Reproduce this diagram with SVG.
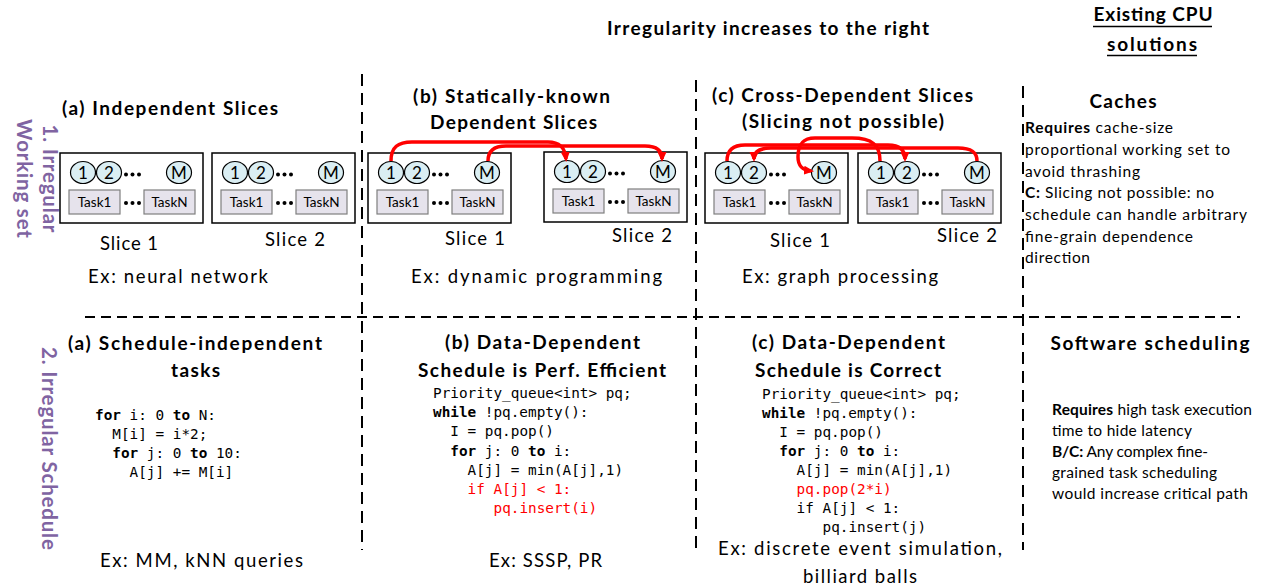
<svg xmlns="http://www.w3.org/2000/svg" xmlns:xlink="http://www.w3.org/1999/xlink" width="1270" height="588" viewBox="0 0 1270 588">
  <style>
    text { font-family: Lato, "Liberation Sans", "DejaVu Sans", sans-serif; fill: #000; }
    .h { font-weight: 700; font-size: 19px; text-anchor: middle; }
    .t { font-size: 18.5px; text-anchor: middle; }
    .b { font-size: 15.5px; }
    .bold { font-weight: 700; }
    .v { font-weight: 700; font-size: 20.5px; text-anchor: middle; fill: #8064A2; }
    .code { font-family: "DejaVu Sans Mono", "Liberation Mono", monospace; font-size: 14.35px; }
    .kw { font-weight: 700; }
    .red { fill: #FF0000; }
    .box { fill: #fff; stroke: #000; stroke-width: 1.5; }
    .node { fill: #DAEEF3; stroke: #000; stroke-width: 1.2; }
    .task { fill: #E6E3EC; stroke: #7F7F7F; stroke-width: 1.2; }
    .dig { font-size: 17px; text-anchor: middle; }
    .tk { font-size: 13.5px; text-anchor: middle; }
    .vdash { stroke: #000; stroke-width: 2; stroke-dasharray: 12 7; fill: none; }
    .hdash { stroke: #000; stroke-width: 2; stroke-dasharray: 10 6; fill: none; }
    .dep { stroke: #FF0000; stroke-width: 3.5; fill: none; marker-end: url(#arrow); }
    .ul { stroke: #000; stroke-width: 1.5; }
  </style>
  <defs>
    <marker id="arrow" markerUnits="userSpaceOnUse" markerWidth="10" markerHeight="10" refX="7" refY="5" orient="auto">
      <path d="M0,0.5 L10,5 L0,9.5 z" fill="#FF0000"/>
    </marker>
    <!-- one slice: M data nodes on top, N tasks below -->
    <g id="slice-body">
      <rect class="box" x="0" y="0" width="143" height="70"/>
      <ellipse class="node" cx="23" cy="19.5" rx="12.5" ry="11"/>
      <text class="dig" x="23" y="25.5">1</text>
      <ellipse class="node" cx="49" cy="19.5" rx="12.5" ry="11"/>
      <text class="dig" x="49" y="25.5">2</text>
      <circle cx="66" cy="21.5" r="2"/>
      <circle cx="72.5" cy="21.5" r="2"/>
      <circle cx="79" cy="21.5" r="2"/>
      <ellipse class="node" cx="119" cy="19.5" rx="12.5" ry="11"/>
      <text class="dig" x="119" y="25.5">M</text>
      <rect class="task" x="9" y="37" width="51" height="24"/>
      <text class="tk" x="34.5" y="54">Task1</text>
      <circle cx="66" cy="50" r="2"/>
      <circle cx="72.5" cy="50" r="2"/>
      <circle cx="79" cy="50" r="2"/>
      <rect class="task" x="84" y="37" width="51" height="24"/>
      <text class="tk" x="109.5" y="54">TaskN</text>
    </g>
  </defs>

  <rect width="1270" height="588" fill="#fff"/>

  <!-- grid separators -->
  <g id="separators">
    <line class="vdash" x1="362" y1="74" x2="362" y2="550"/>
    <line class="vdash" x1="696" y1="80" x2="696" y2="550"/>
    <line class="vdash" x1="1023" y1="86" x2="1023" y2="550"/>
    <line class="hdash" x1="85" y1="317" x2="1240" y2="317"/>
  </g>

  <!-- headers -->
  <g id="header">
    <text class="h" x="768" y="35" textLength="322">Irregularity increases to the right</text>
    <text class="h" x="1153" y="21" textLength="119">Existing CPU</text>
    <line class="ul" x1="1093" y1="26.5" x2="1212" y2="26.5"/>
    <text class="h" x="1152" y="51" textLength="90">solutions</text>
    <line class="ul" x1="1107" y1="55.5" x2="1197" y2="55.5"/>
  </g>

  <!-- row labels -->
  <g id="row-labels">
    <text class="v" transform="translate(43,178.5) rotate(90)" textLength="108">1. Irregular</text>
    <text class="v" transform="translate(17,178.5) rotate(90)" textLength="119">Working set</text>
    <text class="v" transform="translate(42,448.5) rotate(90)" textLength="203">2. Irregular Schedule</text>
  </g>

  <!-- row 1: working set -->
  <g id="ws-a">
    <text class="h" x="170" y="115" textLength="216">(a) Independent Slices</text>
    <g id="ws-a-slice1">
      <use xlink:href="#slice-body" transform="translate(60,153)"/>
      <text class="t" x="129" y="250" textLength="58">Slice 1</text>
    </g>
    <g id="ws-a-slice2">
      <use xlink:href="#slice-body" transform="translate(212,153)"/>
      <text class="t" x="295" y="246" textLength="60">Slice 2</text>
    </g>
    <text class="t" x="178" y="283" textLength="180">Ex: neural network</text>
  </g>

  <g id="ws-b">
    <text class="h" x="511.5" y="103" textLength="197">(b) Statically-known</text>
    <text class="h" x="513.5" y="129" textLength="167">Dependent Slices</text>
    <g id="ws-b-slice1">
      <use xlink:href="#slice-body" transform="translate(368,153)"/>
      <text class="t" x="475" y="245" textLength="60">Slice 1</text>
    </g>
    <g id="ws-b-slice2">
      <use xlink:href="#slice-body" transform="translate(544,152)"/>
      <text class="t" x="642" y="242" textLength="60">Slice 2</text>
    </g>
    <text class="t" x="536.5" y="283" textLength="251">Ex: dynamic programming</text>
  </g>

  <g id="ws-c">
    <text class="h" x="842.5" y="102" textLength="261">(c) Cross-Dependent Slices</text>
    <text class="h" x="843" y="128" textLength="202">(Slicing not possible)</text>
    <g id="ws-c-slice1">
      <use xlink:href="#slice-body" transform="translate(705,153)"/>
      <text class="t" x="800" y="247" textLength="60">Slice 1</text>
    </g>
    <g id="ws-c-slice2">
      <use xlink:href="#slice-body" transform="translate(858,153)"/>
      <text class="t" x="967" y="242" textLength="60">Slice 2</text>
    </g>
    <text class="t" x="840" y="283" textLength="196">Ex: graph processing</text>
  </g>

  <!-- dependences between data nodes -->
  <g id="dependences">
    <path class="dep" d="M391,161 C391,147 398,142 412,142 L548,142 C560,142 565,148 566,159"/>
    <path class="dep" d="M488,161 C488,151 494,146 506,146 L645,146 C656,146 662,150 662,159"/>
    <path class="dep" d="M727,161 C727,150 733,145 745,145 L888,145 C900,145 905,150 905,159"/>
    <path class="dep" d="M977,161 C977,152 971,148 958,148 L771,148 C760,148 754,152 754,159"/>
    <path class="dep" d="M880,161 C880,145 872,138 852,138 L815,138 C802,138 798,145 798,157 C798,166 802,170 811,171"/>
  </g>

  <!-- row 1: existing solution -->
  <g id="caches">
    <text class="h" x="1123" y="108" textLength="67">Caches</text>
    <text class="b" x="1025" y="133" textLength="148"><tspan class="bold">Requires</tspan> cache-size</text>
    <text class="b" x="1025" y="155" textLength="205">proportional working set to</text>
    <text class="b" x="1025" y="177" textLength="115">avoid thrashing</text>
    <text class="b" x="1025" y="198" textLength="189"><tspan class="bold">C:</tspan> Slicing not possible: no</text>
    <text class="b" x="1025" y="220" textLength="222">schedule can handle arbitrary</text>
    <text class="b" x="1025" y="242" textLength="168">fine-grain dependence</text>
    <text class="b" x="1025" y="263" textLength="65">direction</text>
  </g>

  <!-- row 2: schedule -->
  <g id="sched-a">
    <text class="h" x="195" y="350" textLength="254">(a) Schedule-independent</text>
    <text class="h" x="195.5" y="377" textLength="49">tasks</text>
    <text class="code" x="95" y="420"><tspan class="kw">for</tspan> i: 0 <tspan class="kw">to</tspan> N:</text>
    <text class="code" x="112.3" y="439">M[i] = i*2;</text>
    <text class="code" x="112.3" y="458"><tspan class="kw">for</tspan> j: 0 <tspan class="kw">to</tspan> 10:</text>
    <text class="code" x="129.6" y="477">A[j] += M[i]</text>
    <text class="t" x="201.5" y="567" textLength="203">Ex: MM, kNN queries</text>
  </g>

  <g id="sched-b">
    <text class="h" x="542.5" y="349" textLength="195">(b) Data-Dependent</text>
    <text class="h" x="542" y="377" textLength="248">Schedule is Perf. Efficient</text>
    <text class="code" x="433" y="398">Priority_queue&lt;int&gt; pq;</text>
    <text class="code" x="433" y="417"><tspan class="kw">while</tspan> !pq.empty():</text>
    <text class="code" x="450.3" y="436">I = pq.pop()</text>
    <text class="code" x="450.3" y="456"><tspan class="kw">for</tspan> j: 0 <tspan class="kw">to</tspan> i:</text>
    <text class="code" x="467.6" y="475">A[j] = min(A[j],1)</text>
    <text class="code red" x="467.6" y="494">if A[j] &lt; 1:</text>
    <text class="code red" x="493.5" y="513">pq.insert(i)</text>
    <text class="t" x="545.5" y="567" textLength="113">Ex: SSSP, PR</text>
  </g>

  <g id="sched-c">
    <text class="h" x="848.5" y="349" textLength="193">(c) Data-Dependent</text>
    <text class="h" x="848" y="377" textLength="186">Schedule is Correct</text>
    <text class="code" x="762" y="399">Priority_queue&lt;int&gt; pq;</text>
    <text class="code" x="762" y="418"><tspan class="kw">while</tspan> !pq.empty():</text>
    <text class="code" x="779.3" y="437">I = pq.pop()</text>
    <text class="code" x="779.3" y="456"><tspan class="kw">for</tspan> j: 0 <tspan class="kw">to</tspan> i:</text>
    <text class="code" x="796.6" y="475">A[j] = min(A[j],1)</text>
    <text class="code red" x="796.6" y="494">pq.pop(2*i)</text>
    <text class="code" x="796.6" y="513">if A[j] &lt; 1:</text>
    <text class="code" x="822.5" y="532">pq.insert(j)</text>
    <text class="t" x="860" y="555" textLength="284">Ex: discrete event simulation,</text>
    <text class="t" x="860" y="583" textLength="114">billiard balls</text>
  </g>

  <!-- row 2: existing solution -->
  <g id="software-scheduling">
    <text class="h" x="1150" y="350" textLength="199">Software scheduling</text>
    <text class="b" x="1052" y="415" textLength="200"><tspan class="bold">Requires</tspan> high task execution</text>
    <text class="b" x="1052" y="436" textLength="140">time to hide latency</text>
    <text class="b" x="1052" y="457" textLength="156"><tspan class="bold">B/C:</tspan> Any complex fine-</text>
    <text class="b" x="1052" y="478" textLength="165">grained task scheduling</text>
    <text class="b" x="1052" y="499" textLength="196">would increase critical path</text>
  </g>
</svg>
